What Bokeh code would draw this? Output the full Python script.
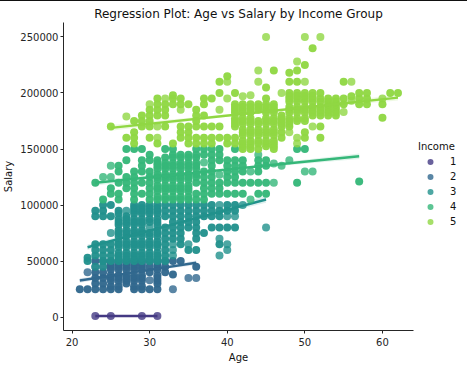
from bokeh.plotting import figure
from bokeh.models import ColumnDataSource, Legend, LegendItem, FixedTicker, NumeralTickFormatter
from bokeh.embed import file_html
from bokeh.resources import INLINE

# Salaries are in thousands, per age. "once" = a single faint dot; "many" = overlapped, darker dots.
income_labels = ["1", "2", "3", "4", "5"]
income_colors = ["#443983", "#31688e", "#21918c", "#35b779", "#90d743"]

# Solid columns: the salary levels that fill them.
solid2 = [25, 27.5, 32.5, 35, 37.5, 42.5, 45, 47.5, 50]
solid3 = [50, 52.5, 55, 57.5, 62.5, 65, 67.5, 72.5, 75, 77.5, 82.5, 85, 87.5, 92.5, 95, 97.5, 100]
solid4 = [105, 107.5, 112.5, 115, 117.5, 122.5, 125, 127.5, 132.5, 135, 137.5, 142.5, 145]
solid5 = [150, 152.5, 155, 157.5, 162.5, 165, 167.5, 172.5, 175, 177.5, 182.5, 185, 187.5, 190]
upper5 = [175, 177.5, 182.5, 185, 187.5, 192.5, 195, 197.5, 200]

income1_once = {23: [1], 25: [1], 29: [1], 31: [1]}
income1_many = {}

income2_once = {22: [40], 23: [45], 24: [45], 30: [33], 33: [25], 35: [35], 36: [35]}
income2_many = {
    21: [25], 22: [25], 23: [25, 30, 35, 40, 50], 24: [25, 30, 35, 40, 50],
    25: solid2, 26: solid2, 27: [30, 32.5, 35, 37.5, 42.5, 45, 47.5, 50],
    28: solid2, 29: solid2, 30: [25, 40, 45, 50],
    31: [25, 30, 32.5, 35, 37.5, 42.5, 45, 47.5, 50], 32: [40, 45, 50], 33: [38, 50], 34: [50], 36: [45],
}

income3_once = {23: [45], 24: [45], 25: [75], 27: [95], 30: [80], 33: [55, 60, 65], 35: [65],
                39: [55, 70, 100], 40: [60, 65, 90], 41: [90], 42: [100], 45: [80]}
income3_many = {
    22: [50, 53], 23: [55, 60, 65, 90, 95], 24: [50, 55, 60, 65, 90, 95, 100],
    25: [50, 55, 60, 65, 90, 100],
    26: [50, 52.5, 55, 57.5, 62.5, 65, 67.5, 72.5, 75, 77.5, 82.5, 85, 87.5, 92.5, 95],
    27: [50, 52.5, 55, 57.5, 62.5, 65, 67.5, 72.5, 75, 77.5, 82.5, 85, 87.5, 90],
    28: solid3, 29: solid3,
    30: [50, 52.5, 55, 57.5, 62.5, 65, 67.5, 72.5, 75, 85, 87.5, 92.5, 95, 97.5, 100],
    31: solid3,
    32: [50, 55, 60, 65, 70, 75, 80, 90, 95, 100],
    33: [70, 75, 80, 85, 90, 95, 100], 34: [65, 70, 75, 80, 85, 90, 95, 100],
    35: [60, 80, 85, 90, 95, 100], 36: [60, 70, 75, 80, 85, 90, 95, 100],
    37: [75, 90, 95, 100], 38: [80, 90, 95, 100], 39: [65, 80, 90, 95],
    40: [80, 95, 100], 41: [80, 95, 100],
}

income4_once = {24: [125], 25: [125, 135], 37: [138], 39: [127], 43: [105, 130], 44: [145],
                46: [120, 137], 47: [135], 48: [140], 50: [130], 51: [130]}
income4_many = {
    23: [120], 24: [105], 25: [110, 115], 26: [105, 110, 120, 130, 135],
    27: [115, 120, 125, 140, 150], 28: [105, 110, 115, 120, 125, 130, 150],
    29: [110, 120, 130, 135, 140, 150], 30: [105, 110, 115, 120, 125, 130, 140, 145],
    31: solid4[:-2] + [140],
    32: solid4[:-1] + [150],
    33: solid4 + [150],
    34: solid4,
    35: solid4,
    36: [105, 110, 120, 125, 127.5, 132.5, 135, 137.5, 142.5, 145, 150],
    37: [105, 110, 115, 120, 125, 130, 145, 150],
    38: [110, 115, 120, 125, 130, 135, 140, 145, 150],
    39: [110, 115, 120, 140, 145, 150], 40: [110, 120, 125, 130, 135, 140],
    41: [110, 120, 125, 130, 135, 140, 150], 42: [110, 120, 130, 135, 140],
    43: [120], 44: [110, 120, 130, 135, 140], 45: [110, 120, 135, 140],
    49: [120, 150], 50: [150], 57: [121],
}

income5_once = {27: [179], 30: [190], 31: [170, 160], 32: [195], 34: [185], 39: [185], 40: [195, 210],
                42: [197], 43: [198], 44: [220, 210], 45: [250], 47: [200], 48: [165],
                49: [228, 160, 155], 50: [250, 210], 51: [170], 52: [250], 55: [183],
                56: [210, 193], 60: [195]}
income5_many = {
    25: [170], 27: [160], 28: [155, 160, 165, 175], 29: [170, 175, 180],
    30: [160, 170, 175, 180, 185], 31: [155, 180, 185, 190, 195], 32: [170, 180, 185, 190],
    33: [155, 190, 195, 198], 34: [160, 165, 170, 190, 195], 35: [155, 160, 165, 170, 190],
    36: [155, 160, 170, 175, 180, 185], 37: [155, 160, 170, 180, 190, 195],
    38: [155, 160, 170, 195], 39: [160, 170, 200, 210], 40: [155, 160, 215],
    41: [155, 160, 170, 172.5, 175, 177.5, 182.5, 185, 187.5, 190, 200],
    42: solid5,
    43: solid5,
    44: [150, 155, 157.5, 162.5, 165, 167.5, 172.5, 175, 185, 187.5, 190],
    45: solid5[1:] + [195, 205],
    46: solid5 + [220],
    47: [160, 165, 170, 172.5, 175, 177.5, 180], 48: [170, 172.5] + upper5 + [210, 218],
    49: upper5 + [210, 220],
    50: [160, 165] + upper5 + [225],
    51: [180, 182.5, 185, 187.5, 192.5, 195, 197.5, 200, 240], 52: [160, 170, 180, 182.5, 185, 187.5, 192.5, 195, 200],
    53: [180, 182.5, 185, 187.5, 190, 192.5, 195], 54: [180, 182.5, 185, 187.5, 190, 192.5, 195], 55: [190, 195, 210], 56: [197],
    57: [190, 195, 200], 58: [190, 195, 200], 60: [178, 190], 61: [200], 62: [200],
}

once_sets = [income1_once, income2_once, income3_once, income4_once, income5_once]
many_sets = [income1_many, income2_many, income3_many, income4_many, income5_many]

# Fitted lines: start, middle and end, with half-width of the pale band.
fit_ages = [[23, 27, 31], [21, 28.5, 36], [22, 33.5, 45], [23, 40, 57], [25, 43.5, 62]]
fit_salaries = [
    [1000, 1000, 1000], [32700, 40600, 48500], [62400, 83700, 105000],
    [119900, 131750, 143600], [168900, 182400, 195900],
]
fit_bands = [[1000, 700, 1000], [2000, 700, 2000], [2500, 800, 3000], [2500, 800, 2500], [2500, 800, 2500]]

age_ticks = [20, 30, 40, 50, 60]
salary_ticks = [0, 50000, 100000, 150000, 200000, 250000]

p = figure(width=467, height=368, frame_width=350, frame_height=308,
           output_backend="svg", toolbar_location=None,
           x_range=(18.9, 64), y_range=(-11900, 262900),
           title="Regression Plot: Age vs Salary by Income Group",
           x_axis_label="Age", y_axis_label="Salary",
           min_border_left=63, min_border_right=54, min_border_top=22, min_border_bottom=38,
           styles={"box-shadow": "inset 0 1px 0 0 #111111"}, border_fill_alpha=0)
p.title.text_font = "DejaVu Sans"
p.title.text_font_size = "12px"
p.title.text_font_style = "normal"
p.title.text_color = "#111111"
p.title.align = "center"
p.title.standoff = 4
p.title.offset = 0
p.outline_line_color = None
p.grid.visible = False
p.background_fill_color = "white"

for ax, ticks in ((p.xaxis[0], age_ticks), (p.yaxis[0], salary_ticks)):
    ax.ticker = FixedTicker(ticks=ticks)
    ax.minor_tick_line_color = None
    ax.major_tick_in = 0
    ax.major_tick_out = 3
    ax.axis_line_color = "#262626"
    ax.major_tick_line_color = "#262626"
    ax.major_label_text_font = "DejaVu Sans"
    ax.major_label_text_font_size = "10px"
    ax.major_label_text_color = "#262626"
    ax.major_label_standoff = 2
    ax.axis_label_text_font = "DejaVu Sans"
    ax.axis_label_text_font_size = "10px"
    ax.axis_label_text_font_style = "normal"
    ax.axis_label_text_color = "#111111"
    ax.axis_label_standoff = 2
p.xaxis[0].major_label_standoff = 4
p.xaxis[0].axis_label_standoff = 3
p.yaxis[0].axis_label_standoff = 3
p.yaxis[0].formatter = NumeralTickFormatter(format="0")

items = []
for label, color, once, many, fx, fy, fb in zip(income_labels, income_colors, once_sets, many_sets,
                                                fit_ages, fit_salaries, fit_bands):
    xs, ys, alphas = [], [], []
    for table, alpha in ((once, 0.8), (many, 0.96)):
        for age, salaries in table.items():
            for s in salaries:
                xs.append(age)
                ys.append(s * 1000)
                alphas.append(alpha)
    src = ColumnDataSource(dict(x=xs, y=ys, a=alphas))
    r = p.scatter("x", "y", source=src, size=8, fill_color=color, fill_alpha="a", line_color=None)
    p.varea(x=fx, y1=[y - b for y, b in zip(fy, fb)], y2=[y + b for y, b in zip(fy, fb)],
            fill_color=color, fill_alpha=0.15)
    p.line(fx, fy, line_color=color, line_width=2.4)
    items.append(LegendItem(label=label, renderers=[r]))

legend = Legend(items=items, title="Income", location=(5, 101),
                orientation="vertical", padding=0, margin=0, spacing=0,
                glyph_width=24, glyph_height=15, label_height=15, label_width=10,
                label_standoff=8, title_standoff=2,
                border_line_color=None, background_fill_alpha=0,
                label_text_font="DejaVu Sans", label_text_font_size="10px", label_text_color="#111111",
                title_text_font="DejaVu Sans", title_text_font_size="10px", title_text_font_style="normal",
                title_text_color="#111111")
p.add_layout(legend, "right")

open("out.html", "w").write(file_html(p, INLINE))
